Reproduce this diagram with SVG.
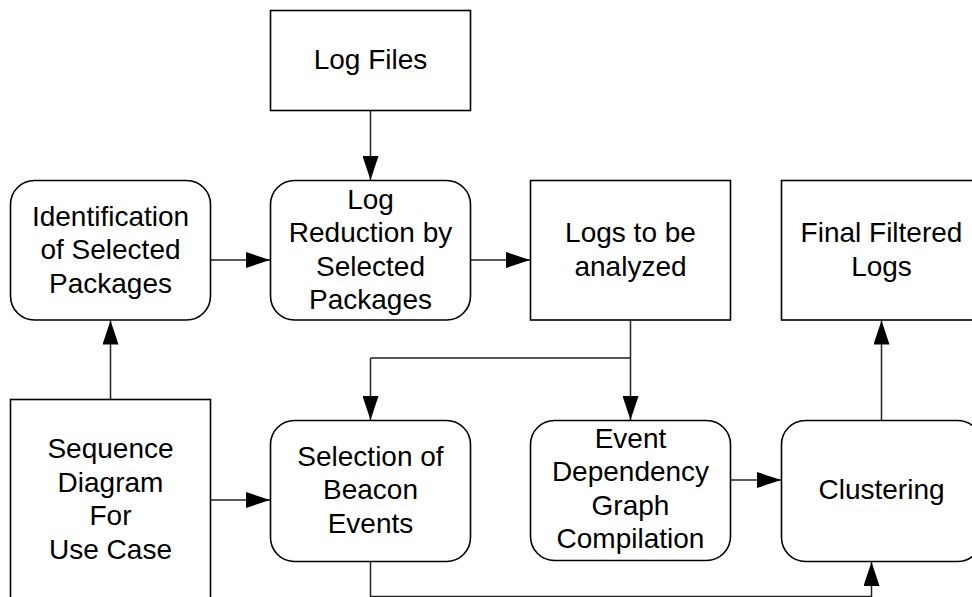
<svg xmlns="http://www.w3.org/2000/svg" width="972" height="597" viewBox="0 0 972 597">
  <style>
    .box { fill: #ffffff; stroke: #000000; stroke-width: 1.6; }
    .lbl { font-family: "Liberation Sans", Arial, sans-serif; font-size: 28px; fill: #000000; text-anchor: middle; }
    .wire { fill: none; stroke: #222222; stroke-width: 1.5; }
    .arrow { fill: none; stroke: #222222; stroke-width: 1.5; marker-end: url(#head); }
  </style>
  <defs>
    <marker id="head" markerUnits="userSpaceOnUse" markerWidth="24" markerHeight="16" refX="24" refY="8" orient="auto">
      <path d="M0,0 L24,8 L0,16 Z" fill="#000000"/>
    </marker>
  </defs>
  <rect width="972" height="597" fill="#ffffff"/>

  <!-- connectors -->
  <g id="connectors">
    <path class="arrow" d="M370.5,110 L370.5,180"/>
    <path class="arrow" d="M210.5,260 L270,260"/>
    <path class="arrow" d="M470.5,260 L530,260"/>
    <path class="wire" d="M630.5,320 L630.5,358 M370.5,358 L630.5,358"/>
    <path class="arrow" d="M370.5,358 L370.5,420"/>
    <path class="arrow" d="M630.5,358 L630.5,420"/>
    <path class="arrow" d="M110.5,399.5 L110.5,320.5"/>
    <path class="arrow" d="M210.5,500 L270,500"/>
    <path class="arrow" d="M730.5,480 L781,480"/>
    <path class="arrow" d="M881.5,420 L881.5,320.5"/>
    <path class="wire" d="M370.5,562 L370.5,596.5 L871.5,596.5" stroke="#999999"/>
    <path class="arrow" d="M871.5,597 L871.5,562"/>
  </g>

  <g id="log-files">
    <rect class="box" x="270.5" y="10.5" width="200" height="100"/>
    <text class="lbl" x="370.5" y="69">Log Files</text>
  </g>

  <g id="identification">
    <rect class="box" x="10.5" y="180.5" width="200" height="139.5" rx="24" ry="24"/>
    <text class="lbl" x="110.5"><tspan x="110.5" y="225.5">Identification</tspan><tspan x="110.5" y="259">of Selected</tspan><tspan x="110.5" y="292.5">Packages</tspan></text>
  </g>

  <g id="log-reduction">
    <rect class="box" x="270.5" y="180.5" width="200" height="139.5" rx="24" ry="24"/>
    <text class="lbl" x="370.5"><tspan x="370.5" y="208.5">Log</tspan><tspan x="370.5" y="242">Reduction by</tspan><tspan x="370.5" y="275.5">Selected</tspan><tspan x="370.5" y="309">Packages</tspan></text>
  </g>

  <g id="logs-to-analyze">
    <rect class="box" x="530.5" y="180.5" width="200" height="139.5"/>
    <text class="lbl" x="630.5"><tspan x="630.5" y="242">Logs to be</tspan><tspan x="630.5" y="275.5">analyzed</tspan></text>
  </g>

  <g id="final-filtered-logs">
    <rect class="box" x="781.5" y="180.5" width="200" height="139.5"/>
    <text class="lbl" x="881.5"><tspan x="881.5" y="242">Final Filtered</tspan><tspan x="881.5" y="275.5">Logs</tspan></text>
  </g>

  <g id="sequence-diagram">
    <rect class="box" x="10.5" y="399.5" width="200" height="202"/>
    <text class="lbl" x="110.5"><tspan x="110.5" y="458">Sequence</tspan><tspan x="110.5" y="491.5">Diagram</tspan><tspan x="110.5" y="525">For</tspan><tspan x="110.5" y="558.5">Use Case</tspan></text>
  </g>

  <g id="beacon-selection">
    <rect class="box" x="270.5" y="420.5" width="200" height="141" rx="24" ry="24"/>
    <text class="lbl" x="370.5"><tspan x="370.5" y="465.5">Selection of</tspan><tspan x="370.5" y="499">Beacon</tspan><tspan x="370.5" y="532.5">Events</tspan></text>
  </g>

  <g id="dependency-graph">
    <rect class="box" x="530.5" y="420.5" width="200" height="140" rx="24" ry="24"/>
    <text class="lbl" x="630.5"><tspan x="630.5" y="447.5">Event</tspan><tspan x="630.5" y="481">Dependency</tspan><tspan x="630.5" y="514.5">Graph</tspan><tspan x="630.5" y="548">Compilation</tspan></text>
  </g>

  <g id="clustering">
    <rect class="box" x="781.5" y="420.5" width="200" height="141" rx="24" ry="24"/>
    <text class="lbl" x="881.5" y="499">Clustering</text>
  </g>
</svg>
